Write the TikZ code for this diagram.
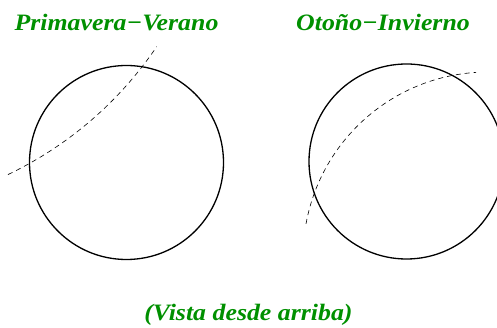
\documentclass[tikz,border=0pt]{standalone}
\usepackage{fontspec}
\usepackage{graphicx}
\setmainfont{Liberation Serif}
\definecolor{titlegreen}{RGB}{0,144,0}
\newcommand{\widetext}[1]{\scalebox{1.1}[1]{#1}}
\begin{document}
\begin{tikzpicture}[x=1pt,y=1pt,
  globe/.style={draw=black,line width=1.3pt},
  orbit/.style={draw=black,line width=0.6pt,dash pattern=on 5pt off 4pt},
  title/.style={text=titlegreen,font=\fontsize{23.5}{27}\selectfont\bfseries\itshape,anchor=base,inner sep=0pt}]
\useasboundingbox (0,0) rectangle (497,328);
\clip (0,0) rectangle (497,328);
\node[title] (t1) at (116.5,297.3) {\widetext{Primavera−Verano}};
\node[title] (t2) at (383,297.3) {\widetext{Otoño−Invierno}};
\node[title] (t3) at (248.5,7.5) {\widetext{(Vista desde arriba)}};
\node[globe,circle,minimum size=194pt,inner sep=0pt] (c1) at (126.5,165.5) {};
\node[globe,circle,minimum size=195pt,inner sep=0pt] (c2) at (406.5,166.5) {};
\coordinate (o1) at (-153,491);
\coordinate (o2) at (488,71);
\draw[orbit] ([shift={(-64.5:374)}]o1) arc[start angle=-64.5,end angle=-34.1,radius=374];
\draw[orbit] ([shift={(169.7:185)}]o2) arc[start angle=169.7,end angle=93.7,radius=185];
\end{tikzpicture}
\end{document}
